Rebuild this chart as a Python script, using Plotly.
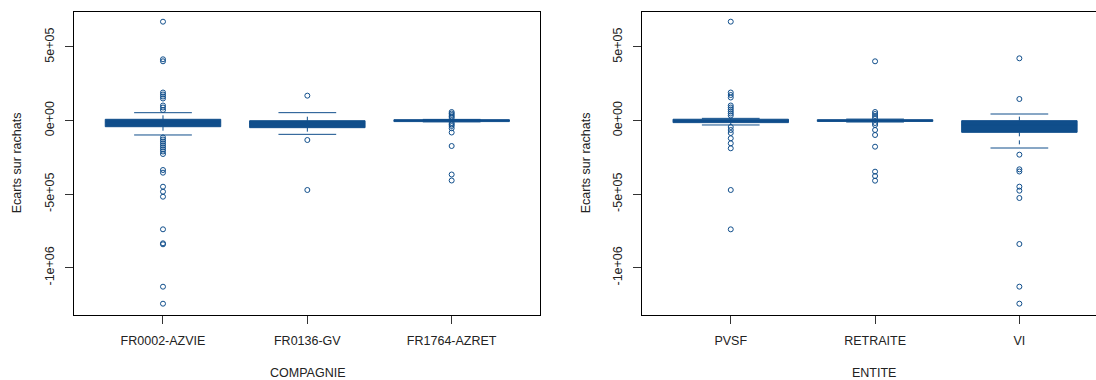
import plotly.graph_objects as go

# ---------------- data ----------------
compagnie = ["FR0002-AZVIE", "FR0136-GV", "FR1764-AZRET"]
comp_q1 = [-41700, -48300, -7000]
comp_median = [-10000, -20000, 0]
comp_q3 = [8600, -1000, 6000]
comp_lower = [-98000, -93600, -9000]
comp_upper = [53400, 53600, 8000]
comp_outliers = [
    [671800, 416300, 402700, 190700, 177100, 163500, 149900, 102300, 88700, 71800,
     -115100, -128700, -142300, -155900, -169500, -183100, -196600, -210200, -227200,
     -336000, -354300, -449400, -483400, -517400, -738900, -834000, -840800,
     -1128900, -1244400],
    [169100, -132100, -471800],
    [58200, 48000, 37800, 27600, 17400, -16600, -26800, -37000, -52600, -81100,
     -172900, -366500, -407300],
]

entite = ["PVSF", "RETRAITE", "VI"]
ent_q1 = [-14000, -6000, -80000]
ent_median = [0, 0, -30000]
ent_q3 = [9000, 6000, -700]
ent_lower = [-30000, -10000, -186500]
ent_upper = [15000, 10000, 44600]
ent_outliers = [
    [672000, 190700, 173700, 156700, 102300, 88700, 75200, 61600, 48000, 34400,
     -43800, -64100, -84500, -120500, -154500, -188500, -471800, -739100],
    [402600, 58200, 44600, 31000, 17400, -16600, -30200, -64100, -98100, -177600,
     -347200, -376700, -408600],
    [422900, 146500, -231800, -331300, -346100, -449200, -476400, -526200,
     -838800, -1128700, -1244200],
]

y_tickvals = [-1e6, -5e5, 0, 5e5]
y_ticktext = ["-1e+06", "-5e+05", "0e+00", "5e+05"]
y_title = "Ecarts sur rachats"
x_titles = ["COMPAGNIE", "ENTITE"]

# ---------------- style ----------------
W, H = 1096, 380
BLUE = "#104E8B"
TXT = "#222222"
FONT = "Liberation Sans, Arial, sans-serif"
FS = 12.5
BOXW = 0.8      # box width (data units)
CAPW = 0.4      # whisker cap width (data units)

fig = go.Figure()


def add_panel(cats, q1, med, q3, lo, up, outs, xa, ya):
    pos = list(range(1, len(cats) + 1))
    # dashed whiskers
    wx, wy, cx, cy = [], [], [], []
    for p, a, b, l, u in zip(pos, q1, q3, lo, up):
        wx += [p, p, None, p, p, None]
        wy += [b, u, None, a, l, None]
        cx += [p - CAPW / 2, p + CAPW / 2, None, p - CAPW / 2, p + CAPW / 2, None]
        cy += [u, u, None, l, l, None]
    fig.add_trace(go.Scatter(
        x=wx, y=wy, mode="lines", line=dict(color=BLUE, width=1, dash="4px,4px"),
        xaxis=xa, yaxis=ya, showlegend=False, hoverinfo="skip"))
    fig.add_trace(go.Scatter(
        x=cx, y=cy, mode="lines", line=dict(color=BLUE, width=1),
        xaxis=xa, yaxis=ya, showlegend=False, hoverinfo="skip"))
    # boxes (whiskers drawn above)
    fig.add_trace(go.Box(
        x=pos, q1=q1, median=med, q3=q3, lowerfence=q1, upperfence=q3,
        width=BOXW, whiskerwidth=0, fillcolor=BLUE,
        line=dict(color=BLUE, width=1), boxpoints=False,
        xaxis=xa, yaxis=ya, showlegend=False, hoverinfo="skip"))
    for p, vals in zip(pos, outs):
        fig.add_trace(go.Scatter(
            x=[p] * len(vals), y=vals, mode="markers",
            marker=dict(symbol="circle-open", size=5, color=BLUE,
                        line=dict(width=1, color=BLUE)),
            xaxis=xa, yaxis=ya, showlegend=False, hoverinfo="skip"))


add_panel(compagnie, comp_q1, comp_median, comp_q3, comp_lower, comp_upper,
          comp_outliers, "x", "y")
add_panel(entite, ent_q1, ent_median, ent_q3, ent_lower, ent_upper,
          ent_outliers, "x2", "y2")

ydom = [65 / H, 368.3 / H]
yrange = [-1321200, 739700]

xcommon = dict(showline=True, linecolor="black", linewidth=1, mirror=True,
               ticks="outside", ticklen=8, tickcolor="#333", tickwidth=1,
               showgrid=False, zeroline=False, tickvals=[1, 2, 3],
               tickfont=dict(family=FONT, size=FS, color=TXT),
               ticklabelstandoff=6)
ycommon = dict(showline=True, linecolor="black", linewidth=1,
               ticks="outside", ticklen=8, tickcolor="#333", tickwidth=1,
               showgrid=False, zeroline=False, tickvals=y_tickvals,
               ticktext=y_ticktext, tickangle=-90, range=yrange, domain=ydom,
               tickfont=dict(family=FONT, size=FS, color=TXT),
               ticklabelstandoff=6)

fig.update_layout(
    width=W, height=H,
    margin=dict(l=0, r=0, t=0, b=0),
    paper_bgcolor="white", plot_bgcolor="white",
    font=dict(family=FONT, size=FS, color=TXT),
    xaxis=dict(domain=[74.3 / W, 540 / W], range=[0.3855, 3.612],
               ticktext=compagnie, anchor="y", **xcommon),
    xaxis2=dict(domain=[642.3 / W, 1.0], range=[0.387, 3.531],
                ticktext=entite, anchor="y2", **xcommon),
    yaxis=dict(anchor="x", mirror=True, **ycommon),
    yaxis2=dict(anchor="x2", mirror=False, **ycommon),
)

annots = []
for xc, t in [((74.3 + 540) / 2, x_titles[0]), (874.0, x_titles[1])]:
    annots.append(dict(x=xc / W, y=(H - 372.7) / H, xref="paper", yref="paper",
                       text=t, showarrow=False, xanchor="center",
                       yanchor="middle", font=dict(family=FONT, size=FS, color=TXT)))
for xc in [17, 586]:
    annots.append(dict(x=xc / W, y=(H - 163.3) / H, xref="paper", yref="paper",
                       text=y_title, showarrow=False, textangle=-90,
                       xanchor="center", yanchor="middle",
                       font=dict(family=FONT, size=FS, color=TXT)))
fig.update_layout(annotations=annots)

fig.write_html("out.html")
